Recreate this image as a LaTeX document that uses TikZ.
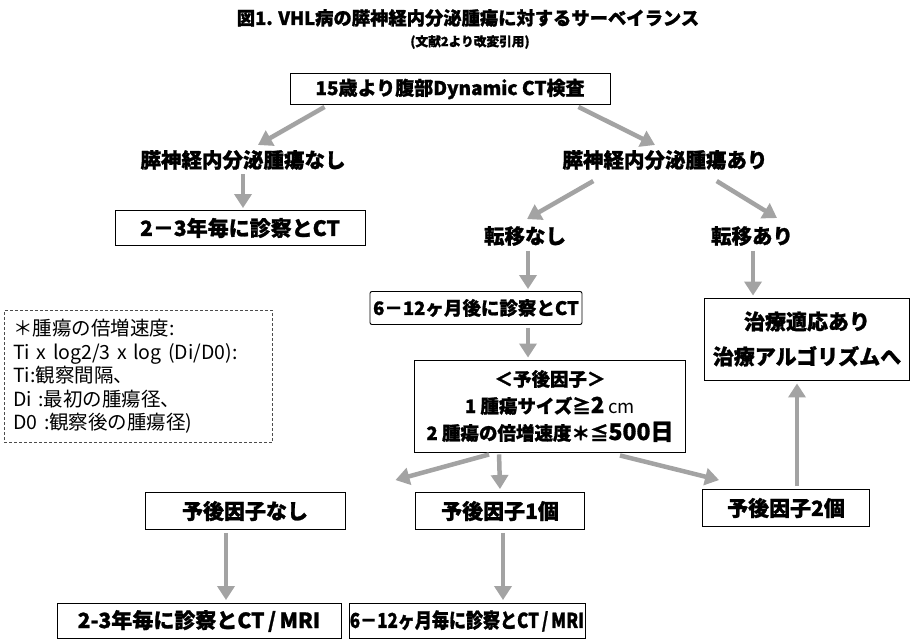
\documentclass[tikz,border=0pt]{standalone}
\usepackage{fontspec}
\setmainfont{Noto Sans CJK JP}[BoldFeatures={FakeBold=1.2}]
\usetikzlibrary{arrows.meta,calc}
\definecolor{arrowgray}{gray}{0.64}
\begin{document}
\begin{tikzpicture}[x=1pt,y=-1pt,
  box/.style={draw=black,line width=0.9pt,inner sep=0pt,font=\fontsize{21}{24}\selectfont\bfseries},
  lbl/.style={font=\fontsize{20.5}{24}\selectfont\bfseries,inner sep=1pt},
  garrow/.style={draw=arrowgray,line width=4.5pt,-{Triangle[width=17pt,length=14pt]}},
]
\useasboundingbox (0,0) rectangle (913,641);
\fill[white] (0,0) rectangle (913,641);

\node[font=\fontsize{18.3}{20}\selectfont\bfseries] (title) at (468,18) {図1. VHL病の膵神経内分泌腫瘍に対するサーベイランス};
\node[font=\fontsize{12.7}{14}\selectfont\bfseries] (sub) at (470,42) {(文献2より改変引用)};

\node[box,minimum width=320pt,minimum height=31pt,font=\fontsize{19}{22}\selectfont\bfseries] (top) at (450,89) {15歳より腹部Dynamic CT検査};
\node[lbl] (nashi) at (243,160) {膵神経内分泌腫瘍なし};
\node[lbl] (ari) at (665,160) {膵神経内分泌腫瘍あり};
\node[box,minimum width=250pt,minimum height=35pt] (b23) at (240,228) {2－3年毎に診察とCT};
\node[lbl] (tnashi) at (525,236) {転移なし};
\node[lbl] (tari) at (752,236) {転移あり};
\node[box,minimum width=212pt,minimum height=33pt,rounded corners=2pt,font=\fontsize{18.5}{22}\selectfont\bfseries] (b612) at (476,308) {6－12ヶ月後に診察とCT};
\node[box,minimum width=205pt,minimum height=82pt,align=center,font=\fontsize{21}{35}\selectfont\bfseries] (chiryo) at (807,339) {治療適応あり\\治療アルゴリズムへ};

\node[draw=black!70,densely dashed,line width=0.6pt,anchor=north west,minimum height=122pt,text width=250pt,inner sep=9pt,align=left,font=\fontsize{19.5}{23.5}\selectfont] (note) at (4,310)
 {＊腫瘍の倍増速度:\\Ti x log2/3 x log (Di/D0):\\Ti:観察間隔、\\Di :最初の腫瘍径、\\D0 :観察後の腫瘍径)};

\node[box,minimum width=271pt,minimum height=92pt,align=center,font=\fontsize{18.5}{27}\selectfont\bfseries] (prog) at (550,406)
 {＜予後因子＞\\1 腫瘍サイズ≧{\fontsize{22}{27}\selectfont 2} {\normalfont cm}\\2 腫瘍の倍増速度＊≦{\fontsize{23}{27}\selectfont 500日}};

\node[box,minimum width=200pt,minimum height=37pt] (p0) at (245,511) {予後因子なし};
\node[box,minimum width=169pt,minimum height=37pt] (p1) at (500,511) {予後因子1個};
\node[box,minimum width=167pt,minimum height=37pt] (p2) at (786,508) {予後因子2個};
\node[box,minimum width=284pt,minimum height=35pt] (bot0) at (199,621) {2-3年毎に診察とCT\,/\,MRI};
\node[box,minimum width=236pt,minimum height=35pt] (bot1) at (467,621) {\scalebox{0.83}[1]{\fontsize{20.5}{24}\selectfont\bfseries 6－12ヶ月毎に診察とCT\,/\,MRI}};

\draw[garrow] ($(top.south west)+(35,2)$) -- ($(nashi.north)+(15,-4)$);
\draw[garrow] ($(top.south east)+(-32,2)$) -- ($(ari.north)+(-10,-4)$);
\draw[garrow] ($(nashi.south)+(0,3)$) -- ($(b23.north)+(3,-2)$);
\draw[garrow] ($(ari.south west)+(32,10)$) -- ($(tnashi.north)+(2,-6)$);
\draw[garrow] ($(ari.south east)+(-52,10)$) -- ($(tari.north)+(25,-7)$);
\draw[garrow] ($(tnashi.south)+(3,4)$) -- ($(b612.north -| tnashi.south)+(3,-2)$);
\draw[garrow] ($(tari.south)+(1,4)$) -- ($(chiryo.north -| tari.south)+(1,-2)$);
\draw[garrow] ($(b612.south)+(52,3)$) -- ($(prog.north)+(-22,-2)$);
\draw[garrow] ($(prog.south west)+(75,2)$) -- ($(p0.north east)+(50,-12)$);
\draw[garrow] ($(prog.south west)+(85,2)$) -- ($(p1.north)+(0,-3)$);
\draw[garrow] ($(prog.south east)+(-66,3)$) -- ($(p2.north west)+(17,-9)$);
\draw[garrow] ($(p2.north)+(11,-3)$) -- ($(chiryo.south)+(-10,3)$);
\draw[garrow] ($(p0.south)+(-19,3)$) -- ($(bot0.north -| p0.south)+(-19,-3)$);
\draw[garrow] ($(p1.south)+(3,3)$) -- ($(bot1.north -| p1.south)+(3,-3)$);
\end{tikzpicture}
\end{document}
